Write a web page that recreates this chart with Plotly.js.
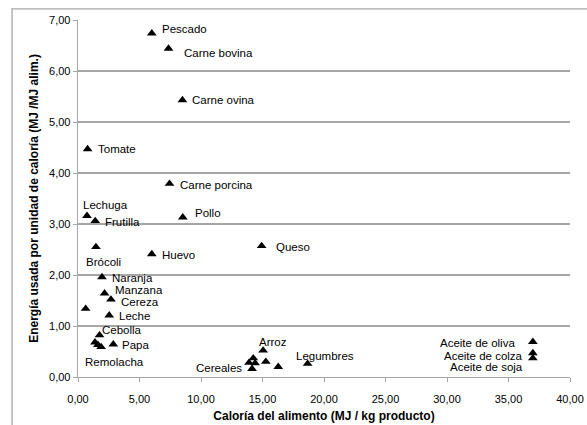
<!DOCTYPE html>
<html>
<head>
<meta charset="utf-8">
<script src="https://cdn.plot.ly/plotly-3.0.1.min.js"></script>
<style>html,body{margin:0;padding:0;background:#fff;}#chart{width:587px;height:425px;}</style>
</head>
<body>
<div id="chart"></div>
<script>
// Data: calories of food (MJ/kg) vs energy used per calorie unit (MJ/MJ)
const foodNames = ["Pescado","Carne bovina","Carne ovina","Tomate","Carne porcina","Lechuga","Frutilla","Pollo","Brócoli","Huevo","Queso","Naranja","Manzana","Cereza","","Leche","Cebolla","Remolacha","","","Papa","Arroz","","","","","Cereales","","Legumbres","Aceite de oliva","Aceite de colza","Aceite de soja"];
const calorieX = [6.0,7.36,8.49,0.78,7.44,0.73,1.40,8.52,1.46,6.0,14.93,1.95,2.16,2.68,0.62,2.54,1.75,1.38,1.62,1.88,2.87,15.05,14.25,13.9,14.4,15.27,14.15,16.28,18.67,36.98,36.98,36.98];
const energyY = [6.74,6.44,5.43,4.47,3.79,3.16,3.06,3.13,2.55,2.41,2.57,1.96,1.64,1.52,1.34,1.21,0.82,0.68,0.63,0.59,0.64,0.52,0.37,0.28,0.27,0.30,0.16,0.20,0.26,0.69,0.47,0.37];
const xTicks = [0,5,10,15,20,25,30,35,40];
const yTicks = [0,1,2,3,4,5,6,7];

// Label placement (style only): [xanchor, xshift, yshift]
const labelStyle = {
  "Pescado":["left",8,4],"Carne bovina":["left",13,-4],"Carne ovina":["left",8,0],
  "Tomate":["left",8,0],"Carne porcina":["left",8,-1],"Lechuga":["left",-6,11],
  "Frutilla":["left",8,-1],"Pollo":["left",10,4],"Brócoli":["left",-12,-15],
  "Huevo":["left",8,-1],"Queso":["left",12,-1],"Naranja":["left",8,-1],
  "Manzana":["left",8,3],"Cereza":["left",8,-3],"Leche":["left",8,-1],
  "Cebolla":["left",0,5],"Remolacha":["left",-12,-20],"Papa":["left",7,-1],
  "Arroz":["left",-6,8],"Cereales":["right",-8,1],"Legumbres":["left",-14,8],
  "Aceite de oliva":["right",-16,-1],"Aceite de colza":["right",-8,-3],"Aceite de soja":["right",-8,-9]
};

const annotations = [];
foodNames.forEach((n,i)=>{
  if(!n) return;
  const s = labelStyle[n] || ["left",8,0];
  annotations.push({x:calorieX[i], y:energyY[i], xref:'x', yref:'y', text:n, showarrow:false,
    xanchor:s[0], yanchor:'middle', xshift:s[1], yshift:s[2],
    font:{family:'Liberation Sans, Arial, sans-serif', size:11.5, color:'#000'}});
});

const trace = {
  x: calorieX, y: energyY, type:'scatter', mode:'markers',
  marker:{symbol:'triangle-up', size:8.5, color:'#000'},
  hoverinfo:'skip', cliponaxis:false
};

const layout = {
  width:587, height:425,
  margin:{l:78, r:16.5, t:20, b:48.3},
  paper_bgcolor:'#fff', plot_bgcolor:'#fff',
  separators:',.',
  showlegend:false,
  font:{family:'Liberation Sans, Arial, sans-serif', size:11, color:'#000'},
  xaxis:{range:[0,40], tickvals:xTicks, tickformat:'.2f', showgrid:false, zeroline:false,
    showline:true, linecolor:'#a6a6a6', linewidth:1.3, ticks:'outside', ticklen:4, tickcolor:'#a6a6a6',
    ticklabelstandoff:7,
    title:{text:'<b>Caloría del alimento (MJ / kg producto)</b>', font:{size:12}, standoff:8},
    fixedrange:true},
  yaxis:{range:[0,7], tickvals:yTicks, tickformat:'.2f', showgrid:true, gridcolor:'#a6a6a6', gridwidth:1.3,
    zeroline:false, showline:true, linecolor:'#a6a6a6', linewidth:1.3, ticks:'outside', ticklen:4, tickcolor:'#a6a6a6',
    title:{text:'<b>Energía usada por unidad de caloría (MJ /MJ alim.)</b>', font:{size:12}, standoff:8},
    fixedrange:true},
  annotations: annotations,
  shapes:[{type:'rect', xref:'paper', yref:'paper', x0:-0.134, x1:1.2, y0:-0.3, y1:1.031,
    line:{color:'#a6a6a6', width:1.3}, fillcolor:'rgba(0,0,0,0)', layer:'below'}]
};

Plotly.newPlot('chart',[trace],layout,{displayModeBar:false, staticPlot:true});
</script>
</body>
</html>
